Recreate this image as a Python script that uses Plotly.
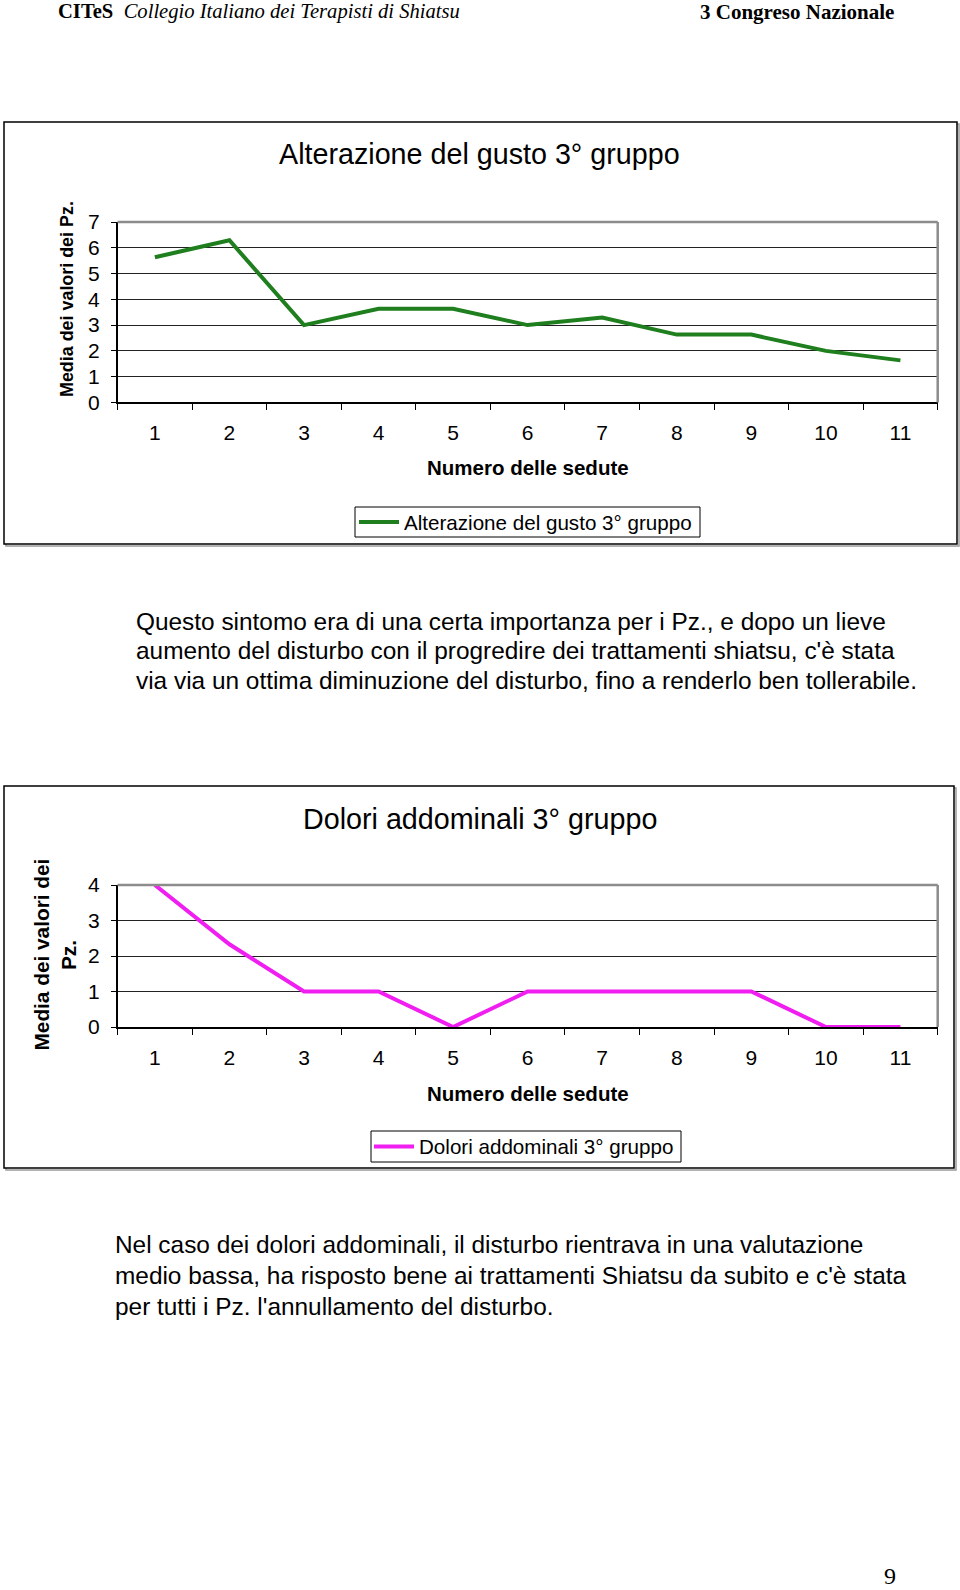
import plotly.graph_objects as go

W, H = 960, 1590

sedute = ["1", "2", "3", "4", "5", "6", "7", "8", "9", "10", "11"]
gusto = [5.63, 6.29, 3.0, 3.63, 3.63, 3.0, 3.29, 2.63, 2.63, 2.0, 1.63]
dolori = [4.0, 2.33, 1.0, 1.0, 0.0, 1.0, 1.0, 1.0, 1.0, 0.0, 0.0]

title1 = "Alterazione del gusto 3° gruppo"
title2 = "Dolori addominali 3° gruppo"
xtitle = "Numero delle sedute"
ytitle1 = "Media dei valori dei Pz."
ytitle2_lines = ["Media dei valori dei", "Pz."]
para1 = [
    "Questo sintomo era di una certa importanza per i Pz., e dopo un lieve",
    "aumento del disturbo con il progredire dei trattamenti shiatsu, c'è stata",
    "via via un ottima diminuzione del disturbo, fino a renderlo ben tollerabile.",
]
para2 = [
    "Nel caso dei dolori addominali, il disturbo rientrava in una valutazione",
    "medio bassa, ha risposto bene ai trattamenti Shiatsu da subito e c'è stata",
    "per tutti i Pz. l'annullamento del disturbo.",
]
header_left_bold = "CITeS"
header_left_italic = "Collegio Italiano dei Terapisti di Shiatsu"
header_right = "3 Congreso Nazionale"
page_no = "9"

SANS = "Liberation Sans, Arial, sans-serif"
SERIF = "Liberation Serif, Times New Roman, serif"


def px(x):
    return x / W


def py(y):
    return 1 - y / H


fig = go.Figure()
fig.add_trace(go.Scatter(x=sedute, y=gusto, mode="lines", name=title1,
                         line=dict(color="#1f7f1f", width=4),
                         xaxis="x", yaxis="y", legend="legend"))
fig.add_trace(go.Scatter(x=sedute, y=dolori, mode="lines", name=title2,
                         line=dict(color="#f01ef0", width=4),
                         xaxis="x2", yaxis="y2", legend="legend2"))

# plot areas (pixel coordinates)
p1 = dict(x0=117.6, x1=937.7, y0=222, y1=402.4)
p2 = dict(x0=117.6, x1=937.7, y0=885, y1=1027)

xcommon = dict(type="category", tickson="boundaries", ticks="outside", ticklen=6,
               tickcolor="black", showline=True, linecolor="black", linewidth=1.5,
               showgrid=False, zeroline=False, range=[-0.5, 10.5], automargin=False,
               tickfont=dict(family=SANS, size=21, color="black"),
               ticklabelstandoff=11, fixedrange=True)
ycommon = dict(dtick=1, ticks="outside", ticklen=5, tickcolor="black",
               showline=True, linecolor="black", linewidth=1.5, automargin=False,
               showgrid=True, gridcolor="#222222", gridwidth=1, zeroline=False,
               tickfont=dict(family=SANS, size=21, color="black"),
               ticklabelstandoff=7, fixedrange=True)

legcommon = dict(xanchor="left", yanchor="middle", borderwidth=0,
                 bgcolor="rgba(0,0,0,0)", itemwidth=40,
                 font=dict(family=SANS, size=20.6, color="black"))

layout = dict(
    width=W, height=H, margin=dict(l=0, r=0, t=0, b=0, autoexpand=False),
    paper_bgcolor="white", plot_bgcolor="white",
    xaxis=dict(domain=[px(p1["x0"]), px(p1["x1"])], anchor="y", **xcommon),
    yaxis=dict(domain=[py(p1["y1"]), py(p1["y0"])], anchor="x", range=[0, 7], **ycommon),
    xaxis2=dict(domain=[px(p2["x0"]), px(p2["x1"])], anchor="y2", **xcommon),
    yaxis2=dict(domain=[py(p2["y1"]), py(p2["y0"])], anchor="x2", range=[0, 4], **ycommon),
    legend=dict(x=px(354), y=py(522), **legcommon),
    legend2=dict(x=px(369), y=py(1146.5), **legcommon),
    showlegend=True,
)
fig.update_layout(**layout)

shapes = []
# chart boxes with slight shadow
for (x0, y0, x1, y1) in [(4, 122, 957, 544), (4, 786, 954, 1168)]:
    shapes.append(dict(type="rect", xref="paper", yref="paper",
                       x0=px(x0 + 2), x1=px(x1 + 2), y0=py(y1 + 2), y1=py(y0 + 2),
                       line=dict(color="#9a9a9a", width=1.5), layer="below"))
    shapes.append(dict(type="rect", xref="paper", yref="paper",
                       x0=px(x0), x1=px(x1), y0=py(y1), y1=py(y0),
                       line=dict(color="black", width=1.5), fillcolor="white", layer="below"))
# legend boxes
for (x0, y0, x1, y1) in [(355, 507, 700, 537), (371, 1131, 681, 1162)]:
    shapes.append(dict(type="rect", xref="paper", yref="paper",
                       x0=px(x0), x1=px(x1), y0=py(y1), y1=py(y0),
                       line=dict(color="black", width=1), fillcolor="white", layer="below"))
# grey top / right border of plot areas
for p in (p1, p2):
    shapes.append(dict(type="line", xref="paper", yref="paper",
                       x0=px(p["x0"]), x1=px(p["x1"]), y0=py(p["y0"]), y1=py(p["y0"]),
                       line=dict(color="#8c8c8c", width=2.5)))
    shapes.append(dict(type="line", xref="paper", yref="paper",
                       x0=px(p["x1"]), x1=px(p["x1"]), y0=py(p["y0"]), y1=py(p["y1"]),
                       line=dict(color="#8c8c8c", width=2.5)))
fig.update_layout(shapes=shapes)

ann = []


def text(x, y, t, size, xanchor="center", yanchor="middle", angle=0, family=SANS):
    ann.append(dict(xref="paper", yref="paper", x=px(x), y=py(y), text=t,
                    showarrow=False, xanchor=xanchor, yanchor=yanchor,
                    textangle=angle, font=dict(family=family, size=size, color="black")))


# header
text(56, 12, "<b>" + header_left_bold + "</b>  <i>" + header_left_italic + "</i>", 20.6,
     xanchor="left", family=SERIF)
text(896, 12, "<b>" + header_right + "</b>", 21, xanchor="right", family=SERIF)

# chart 1
text(479.5, 154, title1, 28.7)
text(528, 468, "<b>" + xtitle + "</b>", 20.5)
text(67, 299, "<b>" + ytitle1 + "</b>", 17.9, angle=-90)

# paragraph 1
for i, line in enumerate(para1):
    text(134, 621 + i * 29.5, line, 24.4, xanchor="left")

# chart 2
text(479.5, 819, title2, 28.7)
text(528, 1093, "<b>" + xtitle + "</b>", 20.5)
text(40.5, 955, "<b>" + ytitle2_lines[0] + "</b>", 20.8, angle=-90)
text(68, 955, "<b>" + ytitle2_lines[1] + "</b>", 20.8, angle=-90)

# paragraph 2
for i, line in enumerate(para2):
    text(112.5, 1244 + i * 31, line, 24.4, xanchor="left")

# page number
text(890, 1576, page_no, 24, family=SERIF)

fig.update_layout(annotations=ann)

fig.write_html("out.html")
